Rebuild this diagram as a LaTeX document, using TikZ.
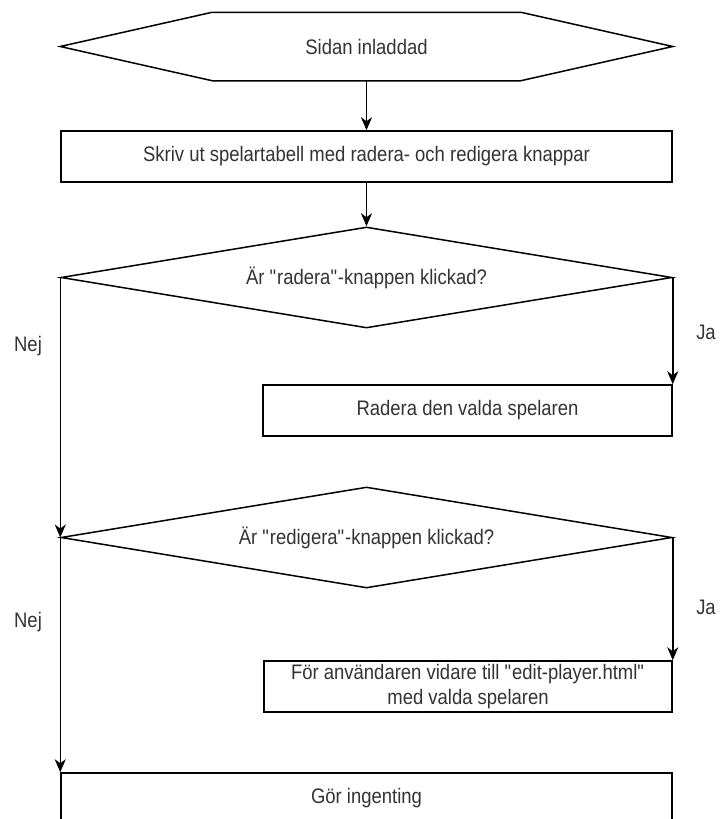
\documentclass[tikz,border=0pt]{standalone}
\usepackage{fontspec}
\setmainfont{Liberation Sans}[FakeStretch=0.88]
\usetikzlibrary{shapes.geometric,arrows.meta}
\definecolor{txt}{rgb}{0.2,0.2,0.2}
\begin{document}
\begin{tikzpicture}[x=1pt,y=-1pt,line width=1.5pt,
  every node/.style={font=\fontsize{21}{25}\selectfont,text=txt},
  procbox/.style={draw=black,rectangle,inner sep=0pt},
  decision/.style={draw=black,diamond,aspect=6,inner sep=0pt,minimum width=611pt,minimum height=101pt},
  lbl/.style={inner sep=0pt},
  arr/.style={draw=black,-{Stealth[length=13pt,width=11pt,inset=4pt]}}]
\clip (0,0) rectangle (720,819);
\fill[white] (0,0) rectangle (720,819);
% start hexagon
\node[inner sep=0pt,minimum width=611pt,minimum height=67pt] (hex) at (366.5,46.5) {Sidan inladdad};
\draw[black] (hex.west) -- ([xshift=152pt]hex.north west) -- ([xshift=-152pt]hex.north east)
  -- (hex.east) -- ([xshift=-152pt]hex.south east) -- ([xshift=152pt]hex.south west) -- cycle;
\node[procbox,minimum width=611pt,minimum height=51pt] (r1) at (366.5,156.5) {Skriv ut spelartabell med radera- och redigera knappar};
\node[decision] (d1) at (366.5,277.5) {Är \textquotedbl radera\textquotedbl-knappen klickad?};
\node[procbox,minimum width=409pt,minimum height=51pt] (b2) at (467.5,410.5) {Radera den valda spelaren};
\node[decision] (d2) at (366.5,537.5) {Är \textquotedbl redigera\textquotedbl-knappen klickad?};
\node[procbox,minimum width=408pt,minimum height=51pt,align=center] (b3) at (468,686.5) {För användaren vidare till \textquotedbl edit-player.html\textquotedbl\\med valda spelaren};
\node[procbox,minimum width=611pt,minimum height=51pt] (b4) at (366.5,798.5) {Gör ingenting};
% labels
\node[lbl] (nej1) at (28,346) {Nej};
\node[lbl] (ja1) at (706,332) {Ja};
\node[lbl] (nej2) at (28,622) {Nej};
\node[lbl] (ja2) at (706,607) {Ja};
% connectors
\draw[arr] (hex.south) -- (r1.north);
\draw[arr] (r1.south) -- (d1.north);
\draw[arr] (d1.east) -- (b2.north east);
\draw[arr] (d1.west) -- (d2.west);
\draw[arr] (d2.east) -- (b3.north east);
\draw[arr] (d2.west) -- (b4.north west);
\end{tikzpicture}
\end{document}
